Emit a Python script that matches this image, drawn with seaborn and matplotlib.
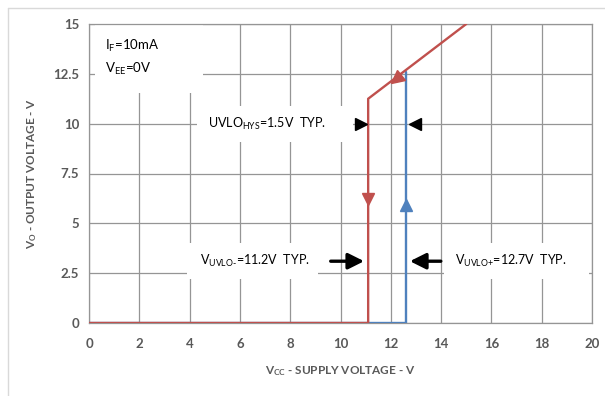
import matplotlib
matplotlib.use("Agg")
import matplotlib.pyplot as plt
import seaborn as sns
import pandas as pd
from matplotlib.lines import Line2D
from matplotlib.markers import MarkerStyle

# Data
red_x = [0, 11.1, 11.1, 15.0]
red_y = [0, 0, 11.25, 15.0]
blue_x = [0, 12.6, 12.6]
blue_y = [0, 0, 12.6]
x_ticks = [0, 2, 4, 6, 8, 10, 12, 14, 16, 18, 20]
y_ticks = [0, 2.5, 5, 7.5, 10, 12.5, 15]
y_tick_labels = ["0", "2.5", "5", "7.5", "10", "12.5", "15"]

sns.set_theme(style="white")
plt.rcParams['font.family'] = ['Lato', 'DejaVu Sans']
plt.rcParams['mathtext.fontset'] = 'custom'
plt.rcParams['mathtext.rm'] = 'Lato'
plt.rcParams['mathtext.it'] = 'Lato'
plt.rcParams['mathtext.bf'] = 'Lato:bold'

RED = '#C0504D'
BLUE = '#4F81BD'
GRID = '#959595'
TXT = '#595959'

fig = plt.figure(figsize=(6.05, 3.96), dpi=100)
ax = fig.add_axes([89/605, 1-323/396, (592-89)/605, (323-24)/396])

df_blue = pd.DataFrame({'x': blue_x, 'y': blue_y})
df_red = pd.DataFrame({'x': red_x, 'y': red_y})
sns.lineplot(data=df_blue, x='x', y='y', sort=False, estimator=None, color=BLUE, lw=1.7, ax=ax, zorder=4)
sns.lineplot(data=df_red, x='x', y='y', sort=False, estimator=None, color=RED, lw=1.7, ax=ax, zorder=5)

ax.set_xlim(0, 20)
ax.set_ylim(0, 15)
ax.set_xticks(x_ticks)
ax.set_yticks(y_ticks)
ax.set_yticklabels(y_tick_labels)
ax.grid(True, color=GRID, lw=0.9)
ax.tick_params(length=0, labelsize=9.5, labelcolor=TXT)
ax.tick_params(axis='x', pad=11)
ax.tick_params(axis='y', pad=7)
for lab in ax.get_xticklabels() + ax.get_yticklabels():
    lab.set_fontweight('bold')
for s in ax.spines.values():
    s.set_color(GRID)
    s.set_linewidth(0.9)

ax.set_xlabel(r'$\mathbf{V_{CC}}$ - SUPPLY VOLTAGE - V', fontsize=8.5, fontweight='bold', color=TXT, labelpad=10)
ax.set_ylabel(r'$\mathbf{V_{O}}$ - OUTPUT VOLTAGE - V', fontsize=8.5, fontweight='bold', color=TXT, labelpad=10)

# direction markers on curves
ax.plot([11.1], [6.2], marker='v', color=RED, ms=9, zorder=6)
ax.plot([12.6], [5.9], marker='^', color=BLUE, ms=9, zorder=6)
ax.plot([12.2], [12.25], marker=MarkerStyle('v').rotated(deg=-52.7), color=RED, ms=9, zorder=6)

# text boxes
ax.text(0.65, 13.9, r'I$_{\mathrm{F}}$=10mA', fontsize=9.5, color='black', va='center', ha='left', zorder=3)
ax.text(0.65, 12.75, r'V$_{\mathrm{EE}}$=0V', fontsize=9.5, color='black', va='center', ha='left', zorder=3)
ax.add_patch(plt.Rectangle((0.25, 11.55), 4.3, 3.45, facecolor='white', edgecolor='none', zorder=2))

ax.text(4.75, 10.0, r'UVLO$_{\mathrm{HYS}}$=1.5V  TYP.', fontsize=9, color='black', va='center', ha='left', zorder=3)
ax.add_patch(plt.Rectangle((4.3, 9.1), 6.2, 1.8, facecolor='white', edgecolor='none', zorder=2))
ax.plot([10.8], [10.0], marker='>', color='black', ms=9, zorder=6)
ax.plot([12.95], [10.0], marker='<', color='black', ms=9, zorder=6)

ax.text(4.4, 3.1, r'V$_{\mathrm{UVLO}\text{-}}$=11.2V  TYP.', fontsize=9, color='black', va='center', ha='left', zorder=3)
ax.add_patch(plt.Rectangle((3.9, 2.2), 5.2, 1.8, facecolor='white', edgecolor='none', zorder=2))
ax.text(14.55, 3.1, r'V$_{\mathrm{UVLO}\text{+}}$=12.7V  TYP.', fontsize=9, color='black', va='center', ha='left', zorder=3)
ax.add_patch(plt.Rectangle((14.1, 2.2), 5.8, 1.8, facecolor='white', edgecolor='none', zorder=2))

ax.annotate('', xy=(11.05, 3.1), xytext=(9.5, 3.1),
            arrowprops=dict(arrowstyle='-|>,head_length=0.8,head_width=0.4', color='black', lw=2.4), zorder=6)
ax.annotate('', xy=(12.65, 3.1), xytext=(14.1, 3.1),
            arrowprops=dict(arrowstyle='-|>,head_length=0.8,head_width=0.4', color='black', lw=2.4), zorder=6)

# outer figure border (left and top)
fig.add_artist(Line2D([7.5/605, 7.5/605], [0, 1-7.5/396], color='#D9D9D9', lw=1, transform=fig.transFigure))
fig.add_artist(Line2D([7.5/605, 1], [1-7.5/396, 1-7.5/396], color='#D9D9D9', lw=1, transform=fig.transFigure))

fig.savefig('out.png', dpi=100)
